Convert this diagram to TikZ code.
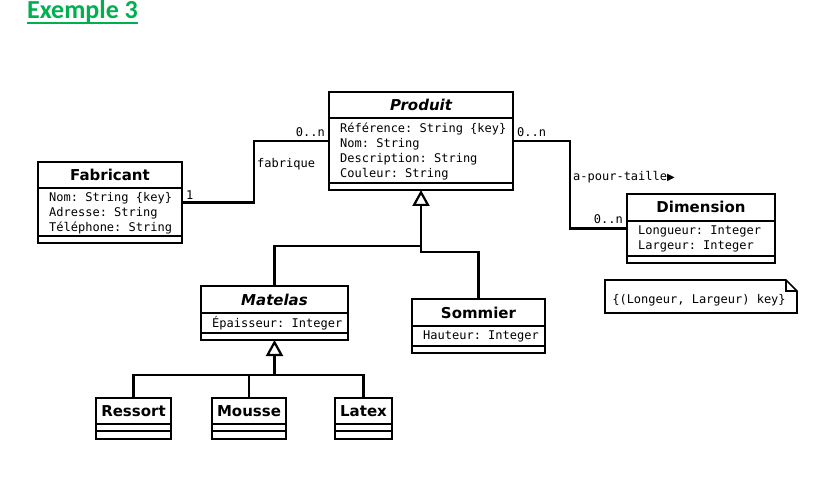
\documentclass[tikz,border=0pt]{standalone}
\usepackage{fontspec}
\setmainfont{DejaVu Sans}
\setmonofont{DejaVu Sans Mono}
\newfontfamily\headfont{Carlito}
\newfontfamily\symfont{DejaVu Sans}
\usetikzlibrary{arrows.meta}
\definecolor{titlegreen}{RGB}{0,176,80}

\tikzset{
  classbox/.style={draw, line width=2.2pt, rectangle, outer sep=0pt, inner sep=0pt},
  classname/.style={font=\fontsize{15}{18}\selectfont\bfseries, anchor=base, inner sep=0pt},
  attr/.style={font=\fontsize{12}{14}\selectfont\ttfamily, anchor=base west, inner sep=0pt},
  role/.style={font=\fontsize{12}{14}\selectfont\ttfamily, inner sep=0pt},
  link/.style={line width=2.2pt},
  inherit/.style={line width=2.2pt, -{Triangle[open, length=16pt, width=17pt]}},
}

\begin{document}
\begin{tikzpicture}[x=1pt, y=-1pt]
    \fill[white] (0,0) rectangle (830,489);
    \useasboundingbox (0,0) rectangle (830,489);

    % title
    \node[font=\headfont\fontsize{26}{30}\selectfont\bfseries, text=titlegreen, anchor=base west, inner sep=0pt] (exemple) at (27,19) {Exemple 3};
    \draw[titlegreen, line width=2.2pt] ([yshift=-4]exemple.base west) -- ([yshift=-4]exemple.base east);

    % Produit
    \node[classbox, minimum width=184, minimum height=98] (produit) at (421,141) {};
    \node[classname] (produit-n) at (421,110.5) {\itshape Produit};
    \draw[link] ([yshift=-26]produit.north west) -- ([yshift=-26]produit.north east)
      ([yshift=7]produit.south west) -- ([yshift=7]produit.south east);
    \foreach \a [count=\i from 0] in {Référence: String \{key\}, Nom: String, Description: String, Couleur: String}
      \node[attr] (produit-a\i) at (340,133+14.7*\i) {\a};

    % Fabricant
    \node[classbox, minimum width=144, minimum height=81] (fabricant) at (110,202.5) {};
    \node[classname] (fabricant-n) at (110,180.5) {Fabricant};
    \draw[link] ([yshift=-26]fabricant.north west) -- ([yshift=-26]fabricant.north east)
      ([yshift=7]fabricant.south west) -- ([yshift=7]fabricant.south east);
    \foreach \a [count=\i from 0] in {Nom: String \{key\}, Adresse: String, Téléphone: String}
      \node[attr] (fabricant-a\i) at (49,202+14.7*\i) {\a};

    % Dimension
    \node[classbox, minimum width=148, minimum height=69] (dimension) at (701,228.5) {};
    \node[classname] (dimension-n) at (701,213) {Dimension};
    \draw[link] ([yshift=-27]dimension.north west) -- ([yshift=-27]dimension.north east)
      ([yshift=7]dimension.south west) -- ([yshift=7]dimension.south east);
    \foreach \a [count=\i from 0] in {Longueur: Integer, Largeur: Integer}
      \node[attr] (dimension-a\i) at (638,235+14.7*\i) {\a};

    % Matelas
    \node[classbox, minimum width=147, minimum height=54] (matelas) at (274.5,313) {};
    \node[classname] (matelas-n) at (274.5,305) {\itshape Matelas};
    \draw[link] ([yshift=-27]matelas.north west) -- ([yshift=-27]matelas.north east)
      ([yshift=7]matelas.south west) -- ([yshift=7]matelas.south east);
    \node[attr] (matelas-a0) at (212,327) {Épaisseur: Integer};

    % Sommier
    \node[classbox, minimum width=133, minimum height=54] (sommier) at (478.5,326) {};
    \node[classname] (sommier-n) at (478.5,318) {Sommier};
    \draw[link] ([yshift=-27]sommier.north west) -- ([yshift=-27]sommier.north east)
      ([yshift=7]sommier.south west) -- ([yshift=7]sommier.south east);
    \node[attr] (sommier-a0) at (423,339) {Hauteur: Integer};

    % sub-classes of Matelas
    \foreach \n/\t/\x/\w in {ressort/Ressort/133.5/75, mousse/Mousse/249/74, latex/Latex/363.5/57} {
      \node[classbox, minimum width=\w, minimum height=41] (\n) at (\x,418.5) {};
      \node[classname] (\n-n) at (\x,416) {\t};
      \draw[link] ([yshift=-26]\n.north west) -- ([yshift=-26]\n.north east)
        ([yshift=8]\n.south west) -- ([yshift=8]\n.south east);
    }

    % associations
    \coordinate (fabbend) at (254,0);
    \coordinate (dimbend) at (570,0);
    \draw[link] (fabricant.east) -| (fabbend |- produit.west) -- (produit.west);
    \draw[link] (produit.east) -| (dimbend |- dimension.west) -- (dimension.west);
    \node[role, anchor=base west] (fab-mult) at (186,200) {1};
    \node[role, anchor=base east] (prod-mult1) at (325,137) {0..n};
    \node[role, anchor=base west] (fab-label) at (257,168) {fabrique};
    \node[role, anchor=base west] (prod-mult2) at (517,137) {0..n};
    \node[role, anchor=base west] (dim-label) at (573,181) {a-pour-taille{\symfont\fontsize{10}{12}\selectfont ▶}};
    \node[role, anchor=base east] (dim-mult) at (623,224) {0..n};

    % generalisations
    \coordinate (matjoin) at (421,246);
    \coordinate (somjoin) at (421,252);
    \draw[link] (sommier.north) |- (somjoin) -- (matjoin);
    \draw[inherit] (matelas.north) |- (matjoin) -- (produit.south);
    \coordinate (subjoin) at (274.5,375);
    \draw[link] (ressort.north) |- (subjoin) -| (latex.north);
    \draw[link] (mousse.north) |- (subjoin);
    \draw[inherit] (subjoin) -- (matelas.south);

    % key note
    \node[minimum width=192, minimum height=33, inner sep=0pt, outer sep=0pt] (keynote) at (701,296.5) {};
    \draw[line width=1.6pt] (keynote.north west) -- ([xshift=-11]keynote.north east)
      -- ([yshift=-11]keynote.north east) -- (keynote.south east) -- (keynote.south west) -- cycle;
    \draw[line width=1.1pt] ([xshift=-11]keynote.north east) |- ([yshift=-11]keynote.north east);
    \node[role, anchor=base] (keytext) at (699,303) {\{(Longeur, Largeur) key\}};
\end{tikzpicture}
\end{document}
